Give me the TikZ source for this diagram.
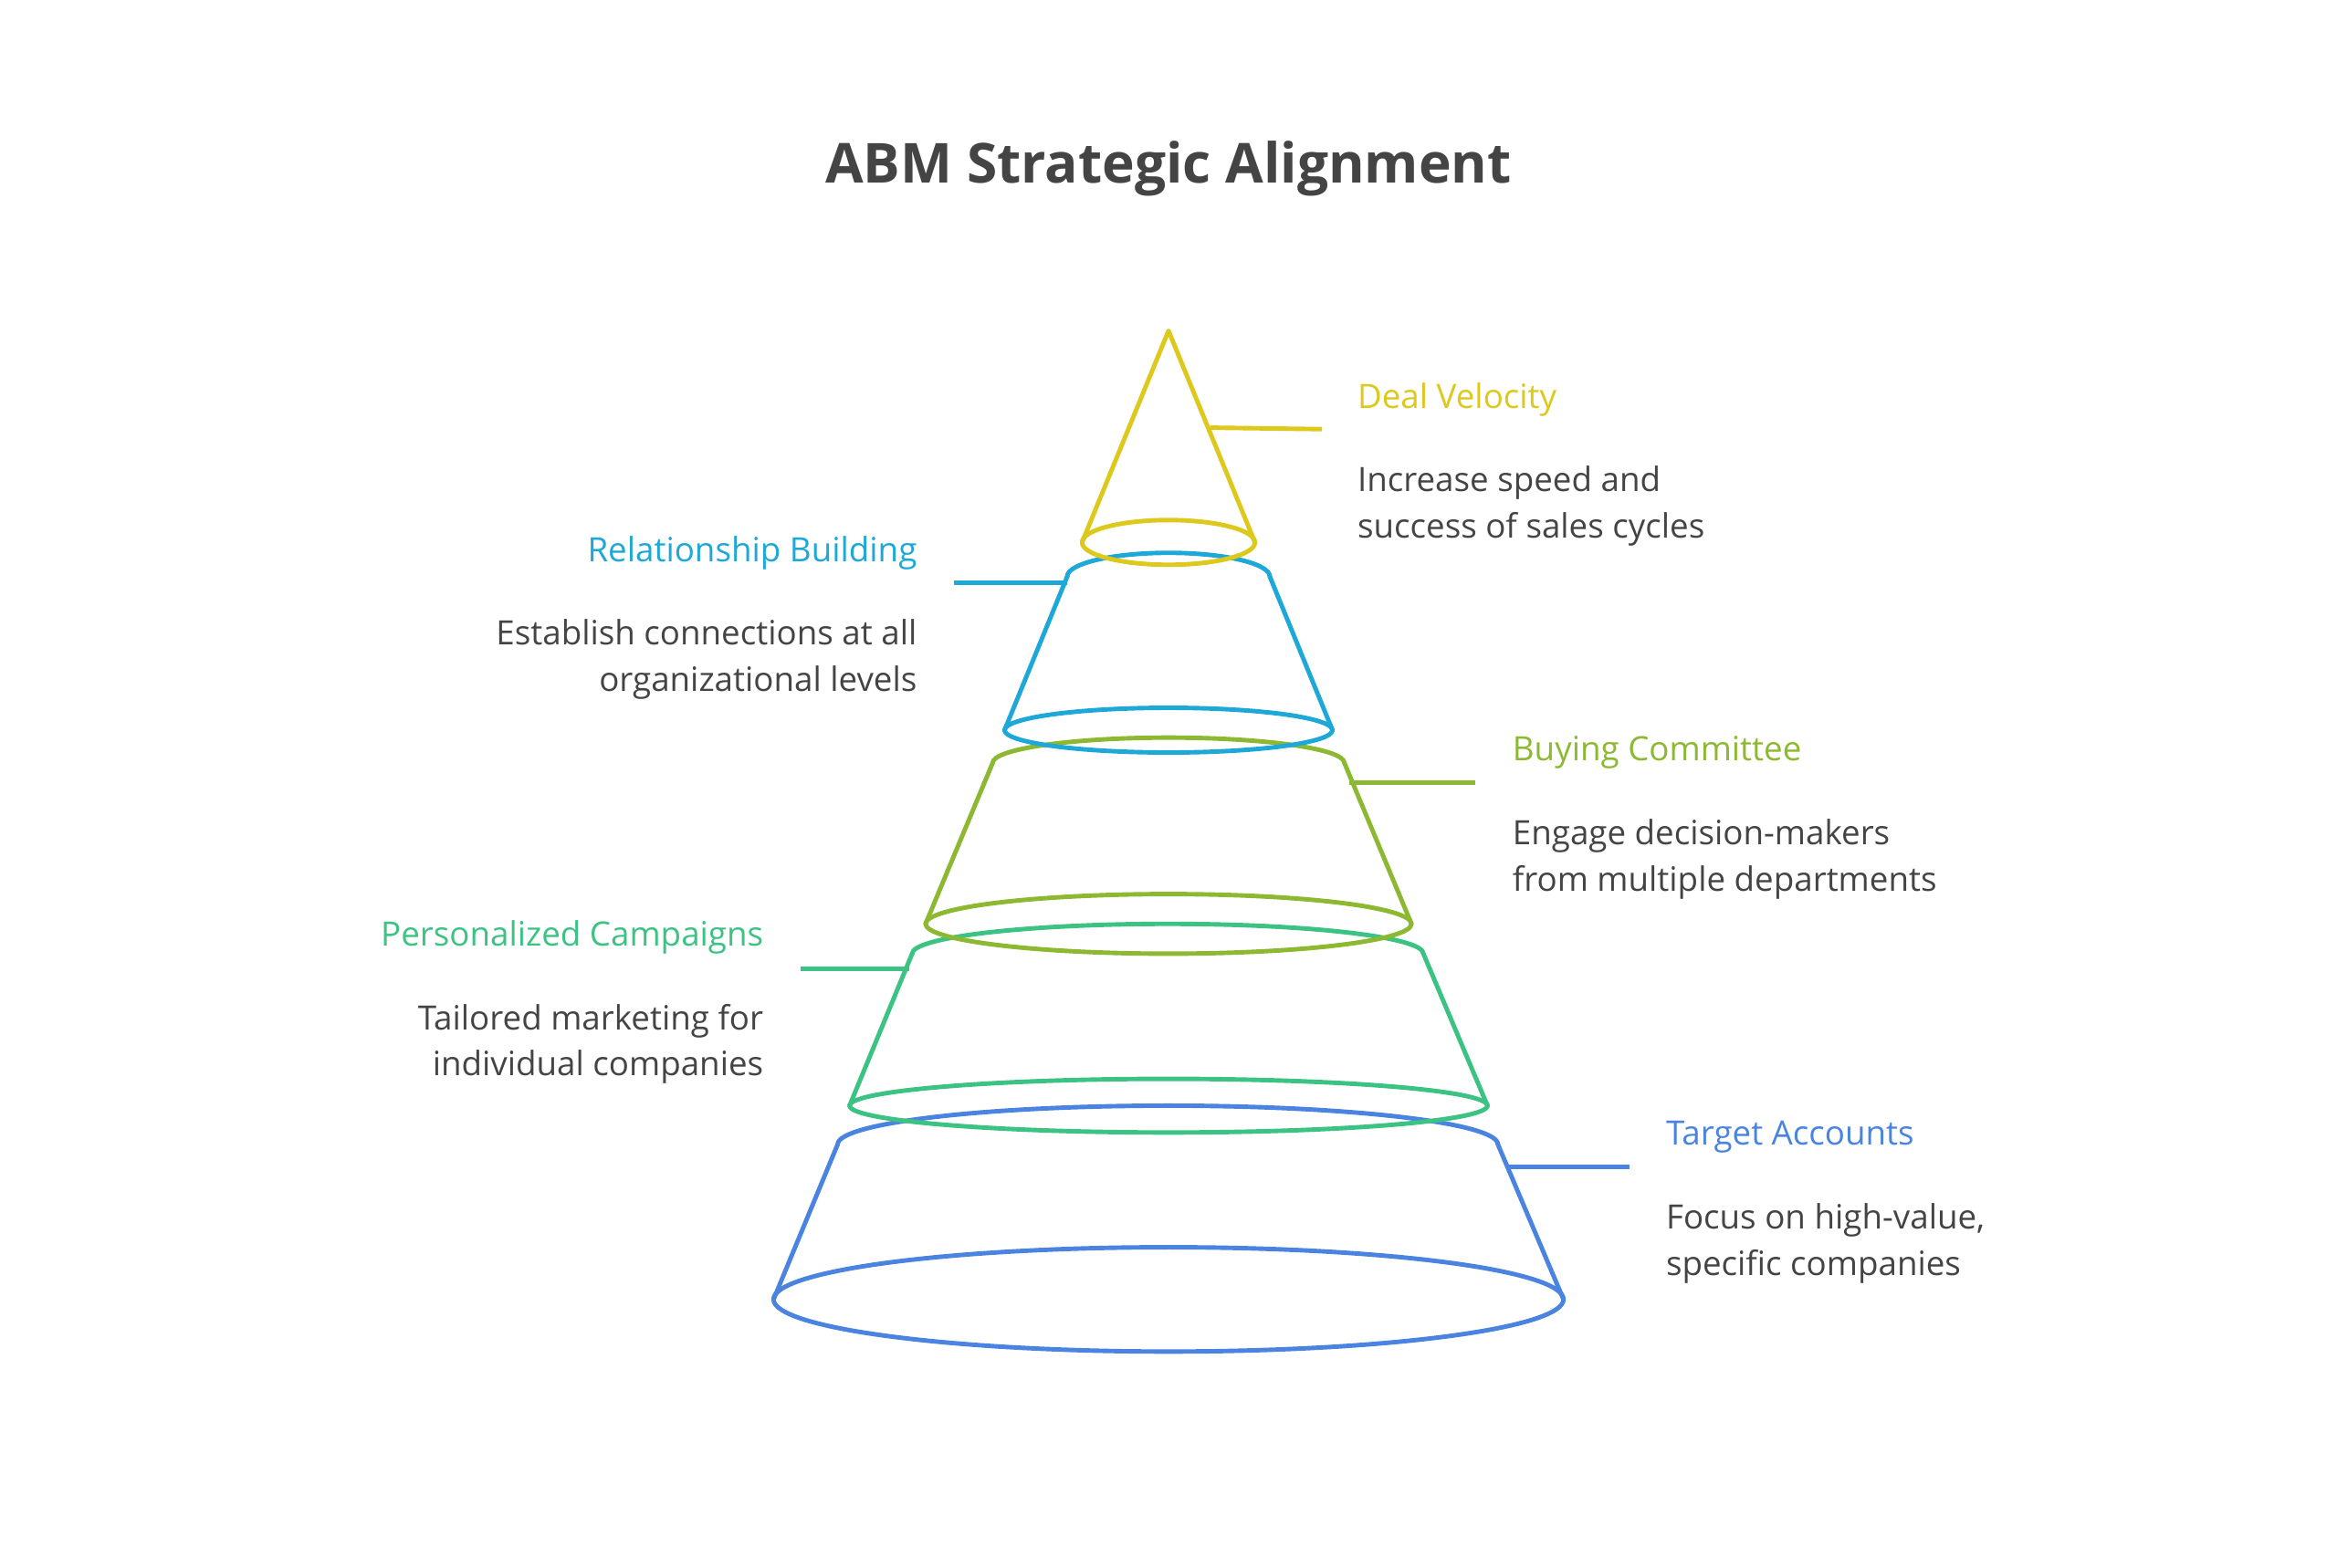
\documentclass[tikz,border=0pt]{standalone}
\usepackage{fontspec}
\setmainfont{Open Sans}
\definecolor{cY}{HTML}{DDC81C}
\definecolor{cB}{HTML}{1EA8D8}
\definecolor{cG}{HTML}{8DB832}
\definecolor{cT}{HTML}{3CC383}
\definecolor{cA}{HTML}{4A84E0}
\definecolor{txt}{HTML}{444444}
\begin{document}
\begin{tikzpicture}[x=1pt,y=-1pt,line width=3pt,line join=round,line cap=round,
  ttl/.style={font=\fontsize{22.5}{26}\selectfont,anchor=west},
  ttr/.style={font=\fontsize{22.5}{26}\selectfont,anchor=east},
  dsl/.style={font=\fontsize{22.5}{31}\selectfont,text=txt,anchor=north west,align=left},
  dsr/.style={font=\fontsize{22.5}{31}\selectfont,text=txt,anchor=north east,align=right}]
\useasboundingbox (0,0) rectangle (1568,1052);
\node[font=\fontsize{37}{44}\selectfont\bfseries,text=txt] (title) at (784,113) {ABM Strategic Alignment};
% Target Accounts
\draw[cA] (562,768) arc[start angle=180,end angle=360,x radius=221.5,y radius=26];
\draw[cA] (562,768) -- (519,872); \draw[cA] (1005,768) -- (1049,872);
\draw[cA] (784,872) ellipse[x radius=265,y radius=35];
% Personalized
\draw[cT] (612,640) arc[start angle=180,end angle=360,x radius=171.5,y radius=20];
\draw[cT] (612,640) -- (570,742); \draw[cT] (955,640) -- (998,742);
\draw[cT] (784,742) ellipse[x radius=214,y radius=18];
% Buying
\draw[cG] (666,512) arc[start angle=180,end angle=360,x radius=118,y radius=17];
\draw[cG] (666,512) -- (621,620); \draw[cG] (902,512) -- (947,620);
\draw[cG] (784,620) ellipse[x radius=163,y radius=20];
% Relationship
\draw[cB] (716,387) arc[start angle=180,end angle=360,x radius=68,y radius=16];
\draw[cB] (716,387) -- (674,490); \draw[cB] (852,387) -- (894,490);
\draw[cB] (784,490) ellipse[x radius=110,y radius=15];
% Deal
\draw[cY] (726,364) -- (784,222) -- (842,364);
\draw[cY] (784,364) ellipse[x radius=58,y radius=15];
% connectors
\coordinate (dy) at (887,288); \coordinate (dy0) at (812,287);
\draw[cY,line cap=butt] (dy0) -- (dy);
\coordinate (rb0) at (716,391); \coordinate (rb) at (640,391);
\draw[cB,line cap=butt] (rb0) -- (rb);
\coordinate (bc0) at (905,525); \coordinate (bc) at (990,525);
\draw[cG,line cap=butt] (bc0) -- (bc);
\coordinate (pc0) at (610,650); \coordinate (pc) at (537,650);
\draw[cT,line cap=butt] (pc0) -- (pc);
\coordinate (ta0) at (1012,783); \coordinate (ta) at (1093,783);
\draw[cA,line cap=butt] (ta0) -- (ta);
% labels
\node[ttl,text=cY] (l1) at (906,268) {Deal Velocity};
\node[dsl] (d1) at (906,308) {Increase speed and\\success of sales cycles};
\node[ttr,text=cB] (l2) at (620,371) {Relationship Building};
\node[dsr] (d2) at (620,411) {Establish connections at all\\organizational levels};
\node[ttl,text=cG] (l3) at (1010,505) {Buying Committee};
\node[dsl] (d3) at (1010,545) {Engage decision-makers\\from multiple departments};
\node[ttr,text=cT] (l4) at (517,629) {Personalized Campaigns};
\node[dsr] (d4) at (517,669) {Tailored marketing for\\individual companies};
\node[ttl,text=cA] (l5) at (1113,763) {Target Accounts};
\node[dsl] (d5) at (1113,803) {Focus on high-value,\\specific companies};
\end{tikzpicture}
\end{document}
